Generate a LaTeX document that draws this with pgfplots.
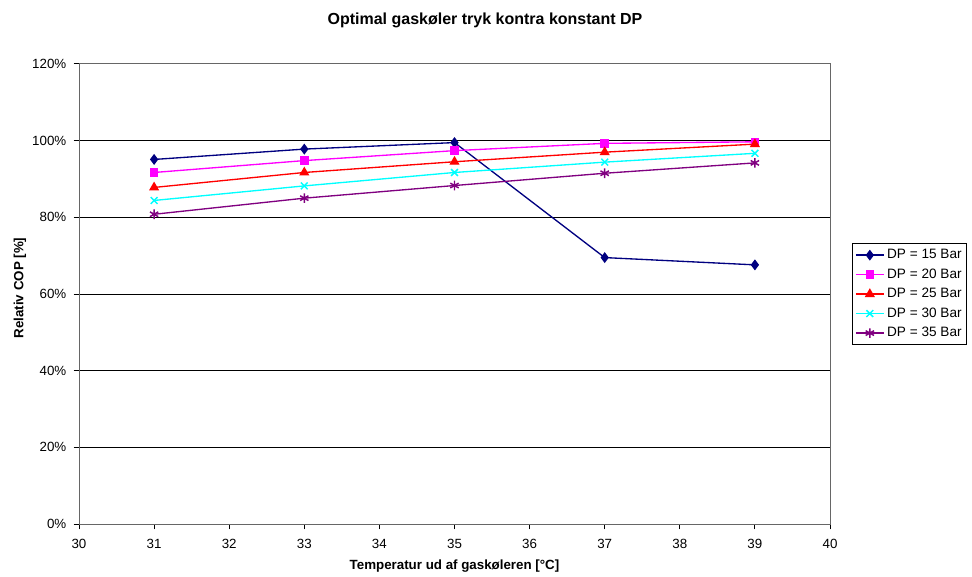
\documentclass[border=0pt]{standalone}
\usepackage{pgfplots}
\pgfplotsset{compat=1.18}
\usepackage{fontspec}
\setmainfont{Liberation Sans}
\usetikzlibrary{plotmarks}

\definecolor{cNavy}{RGB}{0,0,128}
\definecolor{cMagenta}{RGB}{255,0,255}
\definecolor{cRed}{RGB}{255,0,0}
\definecolor{cCyan}{RGB}{0,255,255}
\definecolor{cPurple}{RGB}{128,0,128}

\begin{document}
\begin{tikzpicture}[x=0.75pt,y=0.75pt]
\useasboundingbox (0,0) rectangle (972,576);
\begin{axis}[
  at={(59.25pt,39pt)}, anchor=south west,
  scale only axis, width=563.25pt, height=345pt,
  xmin=30, xmax=40, ymin=0, ymax=120,
  xtick={30,31,...,40}, ytick={0,20,...,120},
  /pgf/number format/assume math mode=true,
  yticklabel={\pgfmathprintnumber{\tick}\%},
  ticklabel style={font=\fontsize{10}{12}\selectfont},
  xticklabel style={yshift=-4pt},
  yticklabel style={xshift=-2pt},
  ymajorgrids, major grid style={black, line width=0.75pt},
  axis line style={gray!80!black, line width=0.75pt},
  tick align=outside, major tick length=4pt,
  tick style={black, line width=0.75pt},
  xtick pos=bottom, ytick pos=left,
  every axis plot/.append style={line width=1pt},
  legend style={at={(1.0293,0.6109)}, anchor=north west,
    draw=black, line width=0.75pt, font=\fontsize{10.2}{12}\selectfont,
    inner xsep=2pt, inner ysep=2.5pt, row sep=2pt},
  legend cell align=left,
  legend image code/.code={\draw[mark repeat=2,mark phase=2,#1]
    plot coordinates {(0pt,0pt) (10.5pt,0pt) (21pt,0pt)};},
  clip=false,
]
\addplot[color=cNavy, mark=diamond*, mark size=3.3pt] coordinates
  {(31,95.1) (33,97.8) (35,99.5) (37,69.5) (39,67.6)};
\addlegendentry{DP = 15 Bar}
\addplot[color=cMagenta, mark=square*, mark size=2.7pt] coordinates
  {(31,91.7) (33,94.8) (35,97.4) (37,99.3) (39,99.7)};
\addlegendentry{DP = 20 Bar}
\addplot[color=cRed, mark=triangle*, mark size=3.4pt] coordinates
  {(31,87.8) (33,91.7) (35,94.5) (37,97.0) (39,99.1)};
\addlegendentry{DP = 25 Bar}
\addplot[color=cCyan, mark=x, mark size=3.6pt, mark options={line width=1.1pt}] coordinates
  {(31,84.4) (33,88.2) (35,91.7) (37,94.4) (39,96.7)};
\addlegendentry{DP = 30 Bar}
\addplot[color=cPurple, mark=asterisk, mark size=3.6pt, mark options={line width=1.1pt}] coordinates
  {(31,80.8) (33,85.0) (35,88.3) (37,91.5) (39,94.2)};
\addlegendentry{DP = 35 Bar}
\end{axis}
\node[font=\bfseries\fontsize{12}{14}\selectfont] at (485,556) {Optimal gaskøler tryk kontra konstant DP};
\node[font=\bfseries\fontsize{10}{12}\selectfont] at (454.5,10) {Temperatur ud af gaskøleren [°C]};
\node[font=\bfseries\fontsize{10}{12}\selectfont, rotate=90] at (20,288) {Relativ COP [\%]};
\end{tikzpicture}
\end{document}
